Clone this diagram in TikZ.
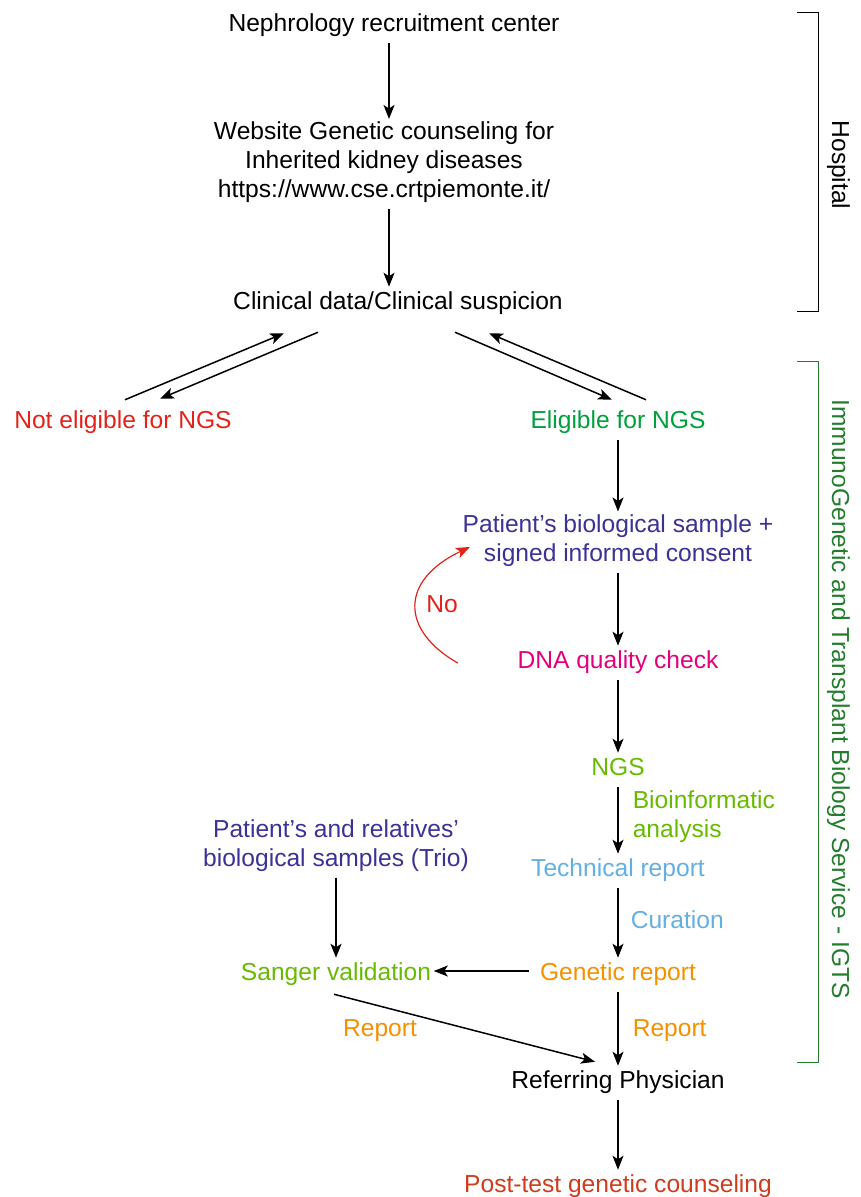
\documentclass[tikz,border=0pt]{standalone}
\usepackage{fontspec}
\setmainfont{Liberation Sans}
\usepackage{tikz}
\usetikzlibrary{arrows.meta}

\definecolor{redtxt}{RGB}{227,34,27}
\definecolor{greentxt}{RGB}{0,160,60}
\definecolor{darkgreen}{RGB}{35,125,45}
\definecolor{bluetxt}{RGB}{60,50,150}
\definecolor{magtxt}{RGB}{228,0,125}
\definecolor{limetxt}{RGB}{102,187,0}
\definecolor{skytxt}{RGB}{100,175,225}
\definecolor{orangetxt}{RGB}{245,145,0}
\definecolor{rusttxt}{RGB}{205,60,30}

\begin{document}
\begin{tikzpicture}[x=1pt,y=-1pt,
	every node/.style={font=\fontsize{24.6}{29}\selectfont,inner sep=2pt,align=center,
		execute at begin node=\strut,execute at end node=\strut},
	>={Stealth[length=14pt,width=11pt,inset=3.5pt]},
	line width=1.5pt]
	\useasboundingbox (0,0) rectangle (860,1197);
	%
	\node (nephro) at (394,26) {Nephrology recruitment center};
	\node (web) at (384,164) {Website Genetic counseling for\\Inherited kidney diseases\\https://www.cse.crtpiemonte.it/};
	\node (clin) at (398,304) {Clinical data/Clinical suspicion};
	\node[text=redtxt] (noelig) at (123,423) {Not eligible for NGS};
	\node[text=greentxt] (elig) at (618,423) {Eligible for NGS};
	\node[text=bluetxt] (sample) at (618,542) {Patient’s biological sample +\\signed informed consent};
	\node[text=magtxt] (dna) at (618,663) {DNA quality check};
	\node[text=limetxt] (ngs) at (618,770) {NGS};
	\node[text=skytxt] (tech) at (618,871) {Technical report};
	\node[text=orangetxt] (gen) at (618,975) {Genetic report};
	\node[text=bluetxt] (trio) at (336,847) {Patient’s and relatives’\\biological samples (Trio)};
	\node[text=limetxt] (sanger) at (336,975) {Sanger validation};
	\node (phys) at (618,1083) {Referring Physician};
	\node[text=rusttxt] (post) at (618,1187) {Post-test genetic counseling};
	%
	\node[text=limetxt,anchor=west,align=left] (bioinf) at (630,818) {Bioinformatic\\analysis};
	\node[text=skytxt,anchor=west] (cur) at (628,923) {Curation};
	\node[text=orangetxt,anchor=west] (rep1) at (630,1031) {Report};
	\node[text=orangetxt] (rep2) at (380,1031) {Report};
	\node[text=redtxt] (no) at (442,607) {No};
	%
	\path[->]
	([xshift=-5pt]nephro.south) edge ([xshift=5pt]web.north)
	([xshift=5pt]web.south) edge ([xshift=-9pt]clin.north)
	([shift={(2,-6)}]noelig.north) edge ([shift={(-114,12)}]clin.south)
	([shift={(-80,11)}]clin.south) edge ([shift={(37,-7)}]noelig.north)
	([shift={(57,11)}]clin.south) edge ([shift={(-6,-6)}]elig.north)
	([shift={(28,-6)}]elig.north) edge ([shift={(91,12)}]clin.south)
	(elig) edge (sample)
	(sample) edge (dna)
	(dna) edge (ngs)
	(ngs) edge (tech)
	(tech) edge (gen)
	(trio) edge (sanger)
	([shift={(-8,-4)}]gen.west) edge ([shift={(0,-4)}]sanger.east)
	(gen) edge (phys)
	([shift={(-2,2)}]sanger.south) edge ([shift={(-23,-4)}]phys.north)
	(phys) edge (post);
	%
	\draw[->,redtxt,line width=1.2pt] ([xshift=-57pt]dna.west) .. controls (400,630) and (400,580) .. ([shift={(10,5)}]sample.west);
	%
	\draw[line width=1pt] (797,12) coordinate (h1) -- (818,12) -- (818,311) -- (797,311) coordinate (h2);
	\node[rotate=-90] (hosp) at (838,165) {Hospital};
	\draw[line width=1pt,darkgreen] (797,361) coordinate (g1) -- (818,361) -- (818,1062) -- (797,1062) coordinate (g2);
	\node[rotate=-90,text=darkgreen] (igts) at (838,699) {ImmunoGenetic and Transplant Biology Service - IGTS};
\end{tikzpicture}
\end{document}
